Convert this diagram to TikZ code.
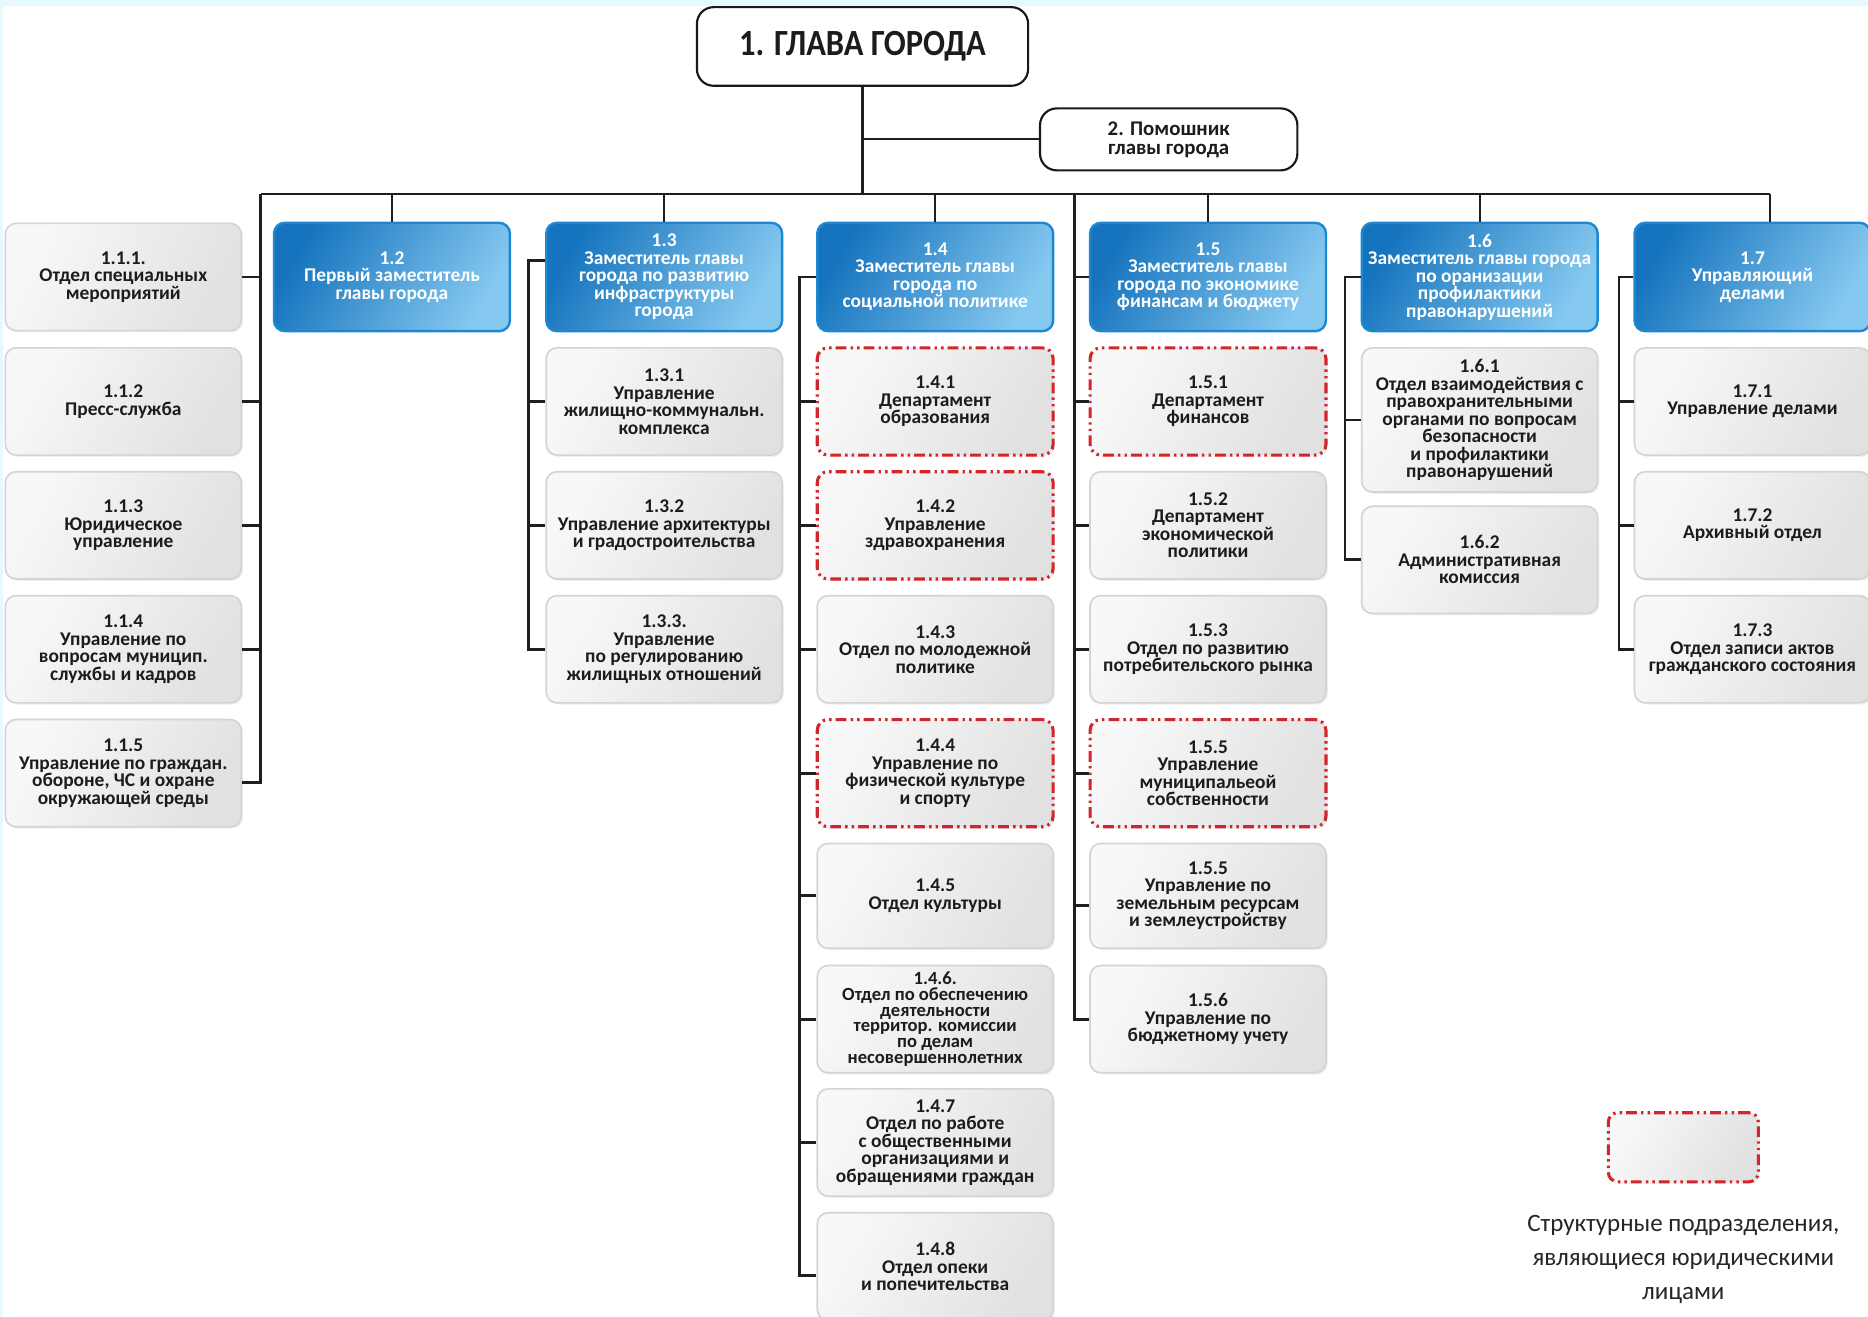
\documentclass[tikz,border=0pt]{standalone}
\usepackage{fontspec}
\setmainfont{Carlito}
\newfontfamily\condfont[FakeStretch=0.88]{Carlito}
\usetikzlibrary{shadows}
\definecolor{bluedark}{HTML}{1674BE}
\definecolor{bluelight}{HTML}{86C9F0}
\definecolor{blueedge}{HTML}{1D88D2}
\definecolor{greyA}{HTML}{F8F8F8}
\definecolor{greyB}{HTML}{E1E1E1}
\definecolor{greyedge}{HTML}{D4D4D4}
\definecolor{legalred}{HTML}{D3262C}
\definecolor{textdark}{HTML}{1C1C1C}
\definecolor{bandcyan}{HTML}{E6F9FC}
\begin{document}
\begin{tikzpicture}[x=1pt,y=-1pt,
  box/.style={rounded corners=9pt, minimum width=198pt, minimum height=90pt, inner sep=0pt, align=center, text=textdark, font=\fontsize{16.3}{14.7}\selectfont\bfseries},
  greybox/.style={box, draw=greyedge, line width=1.4pt, left color=greyA, right color=greyB, shading angle=60, drop shadow={opacity=0.12, shadow xshift=1.5pt, shadow yshift=-1.5pt}},
  legal/.style={greybox, draw=legalred, line width=2.6pt, dash pattern=on 9pt off 3.5pt on 2pt off 3.5pt on 2pt off 3.5pt},
  headbox/.style={box, minimum height=91pt, draw=blueedge, line width=2pt, left color=bluedark, right color=bluelight, shading angle=60, text=white},
  bossbox/.style={draw=black!90, line width=1.8pt, rounded corners=14pt, fill=white, align=center, inner sep=0pt, text=textdark},
  conn/.style={line width=2.4pt, draw=black!88},
  thinconn/.style={line width=1.7pt, draw=black!88}
]
\clip (0,0) rectangle (1568,1105);
\fill[white] (0,0) rectangle (1568,1105);
\fill[bandcyan] (0,0) rectangle (1568,5);
\fill[bandcyan] (0,0) rectangle (2.5,1105);

% top
\node[bossbox, minimum width=278pt, minimum height=66pt, font=\condfont\fontsize{31}{32}\selectfont\bfseries] (boss) at (724,39) {1. ГЛАВА ГОРОДА};
\node[bossbox, minimum width=216pt, minimum height=52pt, font=\fontsize{17.5}{16}\selectfont\bfseries] (assist) at (981,117) {2. Помошник\\главы города};

% headers
\node[headbox] (h12) at (329,232.5) {1.2\\Первый заместитель\\главы города};
\node[headbox] (h13) at (557.5,232.5) {1.3\\Заместитель главы\\города по развитию\\инфраструктуры\\города};
\node[headbox] (h14) at (785,232.5) {1.4\\Заместитель главы\\города по\\социальной политике};
\node[headbox] (h15) at (1014,232.5) {1.5\\Заместитель главы\\города по экономике\\финансам и бюджету};
\node[headbox] (h16) at (1242,232.5) {1.6\\Заместитель главы города\\по оранизации\\профилактики\\правонарушений};
\node[headbox] (h17) at (1471,232.5) {1.7\\Управляющий\\делами};

% 1.1
\node[greybox] (n111) at (103.5,232.5) {1.1.1.\\Отдел специальных\\мероприятий};
\node[greybox] (n112) at (103.5,337) {1.1.2\\Пресс-служба};
\node[greybox] (n113) at (103.5,441) {1.1.3\\Юридическое\\управление};
\node[greybox] (n114) at (103.5,545) {1.1.4\\Управление по\\вопросам муницип.\\службы и кадров};
\node[greybox] (n115) at (103.5,649) {1.1.5\\Управление по граждан.\\обороне, ЧС и охране\\окружающей среды};

% 1.3
\node[greybox] (n131) at (557.5,337) {1.3.1\\Управление\\жилищно-коммунальн.\\комплекса};
\node[greybox] (n132) at (557.5,441) {1.3.2\\Управление архитектуры\\и градостроительства};
\node[greybox] (n133) at (557.5,545) {1.3.3.\\Управление\\по регулированию\\жилищных отношений};

% 1.4
\node[legal] (n141) at (785,337) {1.4.1\\Департамент\\образования};
\node[legal] (n142) at (785,441) {1.4.2\\Управление\\здравохранения};
\node[greybox] (n143) at (785,545) {1.4.3\\Отдел по молодежной\\политике};
\node[legal] (n144) at (785,649) {1.4.4\\Управление по\\физической культуре\\и спорту};
\node[greybox, minimum height=88pt] (n145) at (785,752) {1.4.5\\Отдел культуры};
\node[greybox, font=\fontsize{15.6}{13.3}\selectfont\bfseries] (n146) at (785,855.5) {1.4.6.\\Отдел по обеспечению\\деятельности\\территор. комиссии\\по делам\\несовершеннолетних};
\node[greybox] (n147) at (785,959) {1.4.7\\Отдел по работе\\с общественными\\организациями и\\обращениями граждан};
\node[greybox] (n148) at (785,1063) {1.4.8\\Отдел опеки\\и попечительства};

% 1.5
\node[legal] (n151) at (1014,337) {1.5.1\\Департамент\\финансов};
\node[greybox] (n152) at (1014,441) {1.5.2\\Департамент\\экономической\\политики};
\node[greybox] (n153) at (1014,545) {1.5.3\\Отдел по развитию\\потребительского рынка};
\node[legal] (n154) at (1014,649) {1.5.5\\Управление\\муниципальеой\\собственности};
\node[greybox, minimum height=88pt] (n155) at (1014,752) {1.5.5\\Управление по\\земельным ресурсам\\и землеустройству};
\node[greybox] (n156) at (1014,855.5) {1.5.6\\Управление по\\бюджетному учету};

% 1.6
\node[greybox, minimum height=121pt] (n161) at (1242,352.5) {1.6.1\\Отдел взаимодействия с\\правохранительными\\органами по вопросам\\безопасности\\и профилактики\\правонарушений};
\node[greybox] (n162) at (1242,470) {1.6.2\\Административная\\комиссия};

% 1.7
\node[greybox] (n171) at (1471,337) {1.7.1\\Управление делами};
\node[greybox] (n172) at (1471,441) {1.7.2\\Архивный отдел};
\node[greybox] (n173) at (1471,545) {1.7.3\\Отдел записи актов\\гражданского состояния};

% connectors
\coordinate (busL) at (219,163);
\coordinate (busR) at (1486,163);
\coordinate (s5) at (902,163);
\draw[conn] (boss.south) -- (boss.south |- busL);
\draw[thinconn] (boss.south |- assist.west) -- (assist.west);
\draw[thinconn] (busL) -- (busR);
\foreach \h in {h12,h13,h14,h15,h16} \draw[thinconn] (\h.north |- busL) -- (\h.north);
\draw[thinconn] (busR) -- (busR |- h17.north);

\draw[conn] (busL) |- ([yshift=-8pt]n115.east);
\foreach \n in {n111,n112,n113,n114} \draw[conn] (\n.east) -- (\n.east -| busL);

\draw[conn] (s5) |- (n156.west);
\foreach \n in {h15,n151,n152,n153,n154} \draw[conn] (\n.west) -- (\n.west -| s5);
\draw[conn] ([yshift=-8pt]n155.west) -- ([yshift=-8pt]n155.west -| s5);

\draw[conn] ([yshift=14pt]h13.west) -- ++(-14,0) |- (n133.west);
\foreach \n in {n131,n132} \draw[conn] (\n.west) -- ++(-14,0);

\draw[conn] (h14.west) -- ++(-14,0) |- ([yshift=-8pt]n148.west);
\foreach \n in {n141,n142,n143,n144,n145,n146,n147} \draw[conn] (\n.west) -- ++(-14,0);

\draw[conn] (h16.west) -- ++(-13,0) |- (n162.west);
\draw[conn] (n161.west) -- ++(-13,0);

\draw[conn] (h17.west) -- ++(-12,0) |- (n173.west);
\foreach \n in {n171,n172} \draw[conn] (\n.west) -- ++(-12,0);

% legend
\node[legal, minimum width=126pt, minimum height=58pt, rounded corners=8pt] (leg) at (1413,963) {};
\node[font=\fontsize{21}{28.5}\selectfont, text=black!85, align=center] (legtext) at (1413,1057) {Структурные подразделения,\\являющиеся юридическими\\лицами};
\end{tikzpicture}
\end{document}
